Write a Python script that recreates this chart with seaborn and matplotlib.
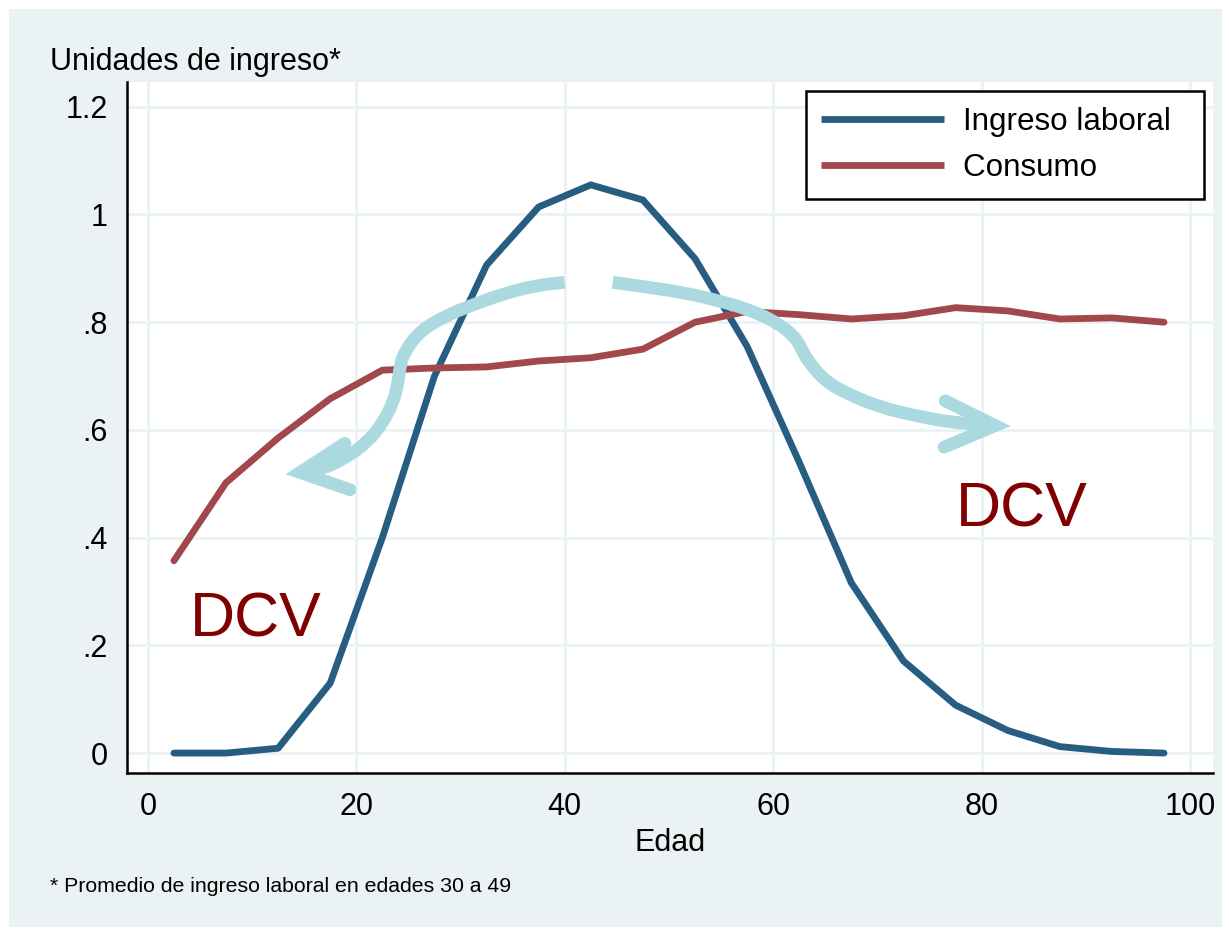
import matplotlib
matplotlib.use('Agg')
import matplotlib.pyplot as plt
import matplotlib.patches as mpatches
from matplotlib.path import Path
import numpy as np
import pandas as pd
import seaborn as sns

# Data (5-year age groups)
edad = [2.5, 7.5, 12.5, 17.5, 22.5, 27.5, 32.5, 37.5, 42.5, 47.5,
        52.5, 57.5, 62.5, 67.5, 72.5, 77.5, 82.5, 87.5, 92.5, 97.5]
ingreso_laboral = [0.0, 0.0, 0.009, 0.13, 0.40, 0.70, 0.906, 1.014, 1.055, 1.027,
                   0.918, 0.755, 0.54, 0.316, 0.171, 0.089, 0.042, 0.012, 0.003, 0.0]
consumo = [0.357, 0.502, 0.585, 0.658, 0.711, 0.715, 0.717, 0.728, 0.734, 0.75,
           0.80, 0.82, 0.814, 0.806, 0.812, 0.827, 0.821, 0.806, 0.808, 0.80]

# Hand-drawn arrows (annotation paths, data coords)
flecha_izq_x = [40.0, 37.1, 34.0, 31.0, 28.6, 26.2, 24.7, 24.2, 24.0, 23.5, 22.5, 21.1, 19.0, 16.7, 14.6]
flecha_izq_y = [0.874, 0.868, 0.852, 0.831, 0.812, 0.785, 0.748, 0.720, 0.686, 0.649, 0.612, 0.578, 0.548, 0.527, 0.521]
punta_izq_x = [18.9, 14.6, 19.4]
punta_izq_y = [0.575, 0.521, 0.489]
flecha_der_x = [44.6, 48.0, 51.4, 54.8, 57.9, 60.3, 62.0, 62.8, 63.3, 64.9, 67.1, 70.3, 73.5, 77.0, 81.3]
flecha_der_y = [0.874, 0.865, 0.855, 0.840, 0.822, 0.800, 0.775, 0.748, 0.729, 0.692, 0.667, 0.642, 0.627, 0.614, 0.608]
punta_der_x = [76.5, 81.3, 76.4]
punta_der_y = [0.654, 0.608, 0.568]

yticks = [0, 0.2, 0.4, 0.6, 0.8, 1.0, 1.2]
ytick_labels = ['0', '.2', '.4', '.6', '.8', '1', '1.2']
xticks = [0, 20, 40, 60, 80, 100]

df = pd.DataFrame({'Edad': edad * 2,
                   'valor': ingreso_laboral + consumo,
                   'serie': ['Ingreso laboral'] * len(edad) + ['Consumo'] * len(edad)})

sns.set_style('white')
plt.rcParams['font.family'] = ['Liberation Sans', 'DejaVu Sans']
plt.rcParams['text.color'] = 'black'

bg = '#eaf2f3'
arrow_color = '#aadadf'


def smooth_path(xs, ys):
    # quadratic bezier through the midpoints, measured points act as controls
    pts = list(zip(xs, ys))
    verts = [pts[0], ((pts[0][0] + pts[1][0]) / 2, (pts[0][1] + pts[1][1]) / 2)]
    codes = [Path.MOVETO, Path.LINETO]
    for i in range(1, len(pts) - 1):
        nxt = ((pts[i][0] + pts[i + 1][0]) / 2, (pts[i][1] + pts[i + 1][1]) / 2)
        verts += [pts[i], nxt]
        codes += [Path.CURVE3, Path.CURVE3]
    verts.append(pts[-1])
    codes.append(Path.LINETO)
    return Path(verts, codes)


fig = plt.figure(figsize=(12.29, 9.31), dpi=100, facecolor='white')
fig.patches.append(mpatches.Rectangle((9 / 1229, 4 / 931), 1213 / 1229, 918 / 931,
                                      transform=fig.transFigure, facecolor=bg,
                                      edgecolor='none', zorder=-5))
ax = fig.add_axes([127 / 1229, 158 / 931, 1086 / 1229, 691 / 931])
ax.set_facecolor('white')

sns.lineplot(data=df, x='Edad', y='valor', hue='serie',
             palette={'Ingreso laboral': '#285d82', 'Consumo': '#a2484d'},
             linewidth=4.9, ax=ax, zorder=3)
for line in ax.get_lines():
    line.set_solid_capstyle('round')

for fx, fy in [(flecha_izq_x, flecha_izq_y), (flecha_der_x, flecha_der_y)]:
    ax.add_patch(mpatches.PathPatch(smooth_path(fx, fy), facecolor='none',
                                    edgecolor=arrow_color, linewidth=9.2,
                                    capstyle='butt', joinstyle='round', zorder=4))
arrow_kw = dict(color=arrow_color, linewidth=9.2, solid_capstyle='round',
                solid_joinstyle='miter', zorder=4)
ax.plot(punta_izq_x, punta_izq_y, **arrow_kw)
ax.plot(punta_der_x, punta_der_y, **arrow_kw)

ax.text(10.4, 0.247, 'DCV', color='#800000', fontsize=45, ha='center', va='center', zorder=5)
ax.text(83.9, 0.451, 'DCV', color='#800000', fontsize=45, ha='center', va='center', zorder=5)

ax.set_xlim(-2.0, 102.2)
ax.set_ylim(-0.037, 1.246)
ax.set_xticks(xticks)
ax.set_yticks(yticks)
ax.set_yticklabels(ytick_labels)
ax.grid(True, color=bg, linewidth=2.0, zorder=0)
ax.set_axisbelow(True)
for s in ['top', 'right']:
    ax.spines[s].set_visible(False)
for s in ['left', 'bottom']:
    ax.spines[s].set_color('black')
    ax.spines[s].set_linewidth(1.8)
ax.tick_params(axis='both', which='major', direction='out', color='black',
               width=1.6, labelsize=22, labelcolor='black')
ax.tick_params(axis='y', length=8, pad=6)
ax.tick_params(axis='x', length=10, pad=4)
ax.set_xlabel('Edad', fontsize=22, labelpad=4, color='black')
ax.set_ylabel('')

handles, labels = ax.get_legend_handles_labels()
leg = ax.legend(handles, [lab + '  ' for lab in labels], loc='upper right',
                fontsize=22.6, frameon=True, fancybox=False,
                edgecolor='black', framealpha=1, handlelength=3.9, handletextpad=0.6,
                borderpad=0.5, labelspacing=0.5, borderaxespad=0.3)
leg.get_frame().set_linewidth(1.8)
for h in leg.get_lines():
    h.set_linewidth(4.9)
    h.set_solid_capstyle('butt')

fig.text(50 / 1229, 1 - 62 / 931, 'Unidades de ingreso*', fontsize=22,
         ha='left', va='center')
fig.text(50 / 1229, 1 - 887 / 931, '* Promedio de ingreso laboral en edades 30 a 49',
         fontsize=15.3, ha='left', va='center')

fig.savefig('out.png', dpi=100, facecolor='white')
